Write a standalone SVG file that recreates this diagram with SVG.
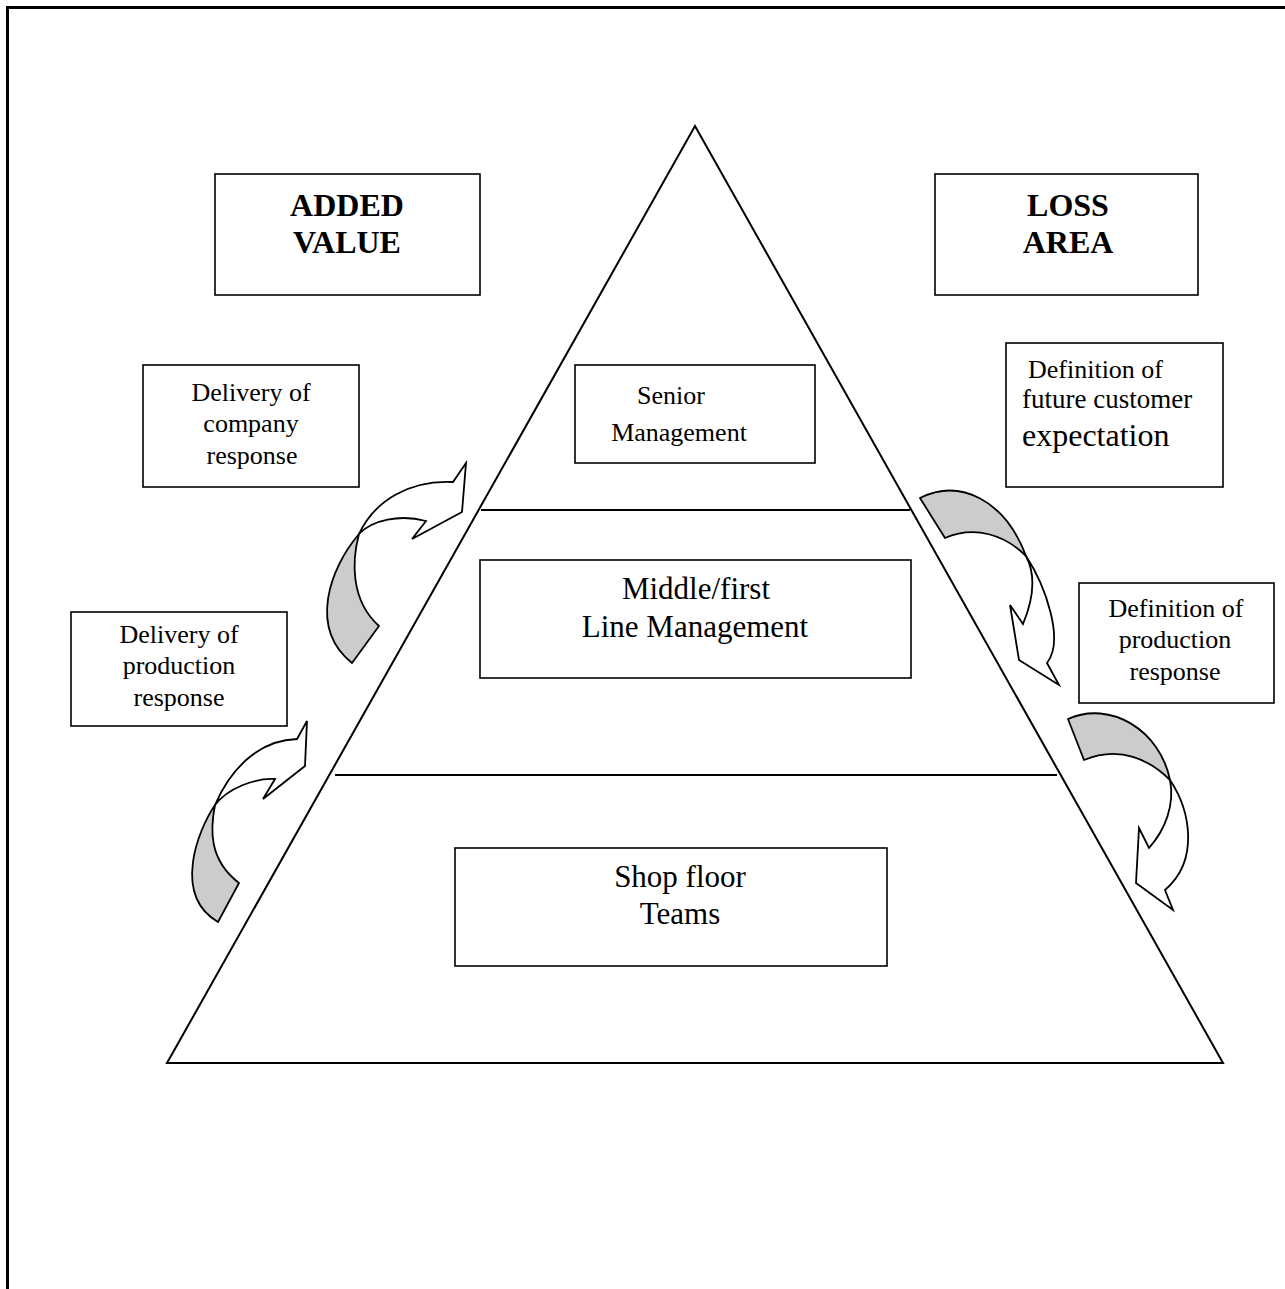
<svg xmlns="http://www.w3.org/2000/svg" width="1285" height="1289" viewBox="0 0 1285 1289">
  <style>
    .frame { fill: none; stroke: #000; stroke-width: 3; }
    .pyr { fill: none; stroke: #000; stroke-width: 2; }
    .box { fill: #fff; stroke: #000; stroke-width: 1.6; }
    .t { font-family: "Liberation Serif", "Times New Roman", serif; font-size: 26px; fill: #000; text-anchor: middle; }
    .big { font-size: 31px; }
    .head { font-size: 32px; font-weight: bold; }
    .back { fill: #cccccc; stroke: #000; stroke-width: 1.8; stroke-linejoin: round; }
    .front { fill: #fff; stroke: #000; stroke-width: 1.8; stroke-linejoin: miter; }
  </style>

  <rect width="1285" height="1289" fill="#fff"/>

  <!-- page frame (runs past the right and bottom edges) -->
  <path class="frame" d="M 7.5 1300 L 7.5 7.5 L 1300 7.5"/>

  <!-- pyramid with its two level dividers -->
  <g id="pyramid">
    <polygon class="pyr" points="695,126 1223,1063 167,1063"/>
    <line class="pyr" x1="481" y1="510" x2="910" y2="510"/>
    <line class="pyr" x1="335" y1="775" x2="1057" y2="775"/>
  </g>

  <g id="added-value">
    <rect class="box" x="215" y="174" width="265" height="121"/>
    <text class="t head" x="347" y="216">ADDED</text>
    <text class="t head" x="347" y="253">VALUE</text>
  </g>

  <g id="loss-area">
    <rect class="box" x="935" y="174" width="263" height="121"/>
    <text class="t head" x="1068" y="216">LOSS</text>
    <text class="t head" x="1068" y="253">AREA</text>
  </g>

  <g id="company-response">
    <rect class="box" x="143" y="365" width="216" height="122"/>
    <text class="t" x="251" y="401">Delivery of</text>
    <text class="t" x="251" y="432">company</text>
    <text class="t" x="252" y="464">response</text>
  </g>

  <g id="senior-management">
    <rect class="box" x="575" y="365" width="240" height="98"/>
    <text class="t" x="671" y="404">Senior</text>
    <text class="t" x="679" y="441">Management</text>
  </g>

  <g id="customer-expectation">
    <rect class="box" x="1006" y="343" width="217" height="144"/>
    <text class="t" x="1028" y="378" style="text-anchor:start">Definition of</text>
    <text class="t" x="1022" y="408" style="text-anchor:start;font-size:27px">future customer</text>
    <text class="t" x="1022" y="446" style="text-anchor:start;font-size:32px">expectation</text>
  </g>

  <g id="middle-management">
    <rect class="box" x="480" y="560" width="431" height="118"/>
    <text class="t big" x="696" y="599">Middle/first</text>
    <text class="t big" x="695" y="637">Line Management</text>
  </g>

  <g id="production-delivery">
    <rect class="box" x="71" y="612" width="216" height="114"/>
    <text class="t" x="179" y="643">Delivery of</text>
    <text class="t" x="179" y="674">production</text>
    <text class="t" x="179" y="706">response</text>
  </g>

  <g id="production-definition">
    <rect class="box" x="1079" y="583" width="195" height="120"/>
    <text class="t" x="1176" y="617">Definition of</text>
    <text class="t" x="1175" y="648">production</text>
    <text class="t" x="1175" y="680">response</text>
  </g>

  <g id="shop-floor">
    <rect class="box" x="455" y="848" width="432" height="118"/>
    <text class="t big" x="680" y="887">Shop floor</text>
    <text class="t big" x="680" y="924">Teams</text>
  </g>

  <!-- curved block arrows: grey underside below the twist, white face and head above -->
  <g id="connectors">
    <g id="arrow-left-upper">
      <path class="back" d="M 352 663 C 308 628 330 568 359 534 C 352 560 350 600 379 626 Z"/>
      <path class="front" d="M 359 534 C 375 500 410 480 453 482 L 466 463 L 462 512 L 412 539 L 426 521 C 400 514 372 520 359 534 Z"/>
    </g>
    <g id="arrow-left-lower">
      <path class="back" d="M 218 922 C 172 895 198 830 215 805 C 210 830 209 860 239 883 Z"/>
      <path class="front" d="M 215 805 C 230 770 258 740 297 739 L 307 721 L 305 766 L 263 799 L 275 779 C 255 778 228 788 215 805 Z"/>
    </g>
    <g id="arrow-right-upper">
      <path class="back" d="M 920 498 C 960 478 1005 500 1026 556 C 1005 535 975 525 945 538 Z"/>
      <path class="front" d="M 1026 556 C 1045 585 1065 640 1047 663 L 1059 685 L 1019 660 L 1010 605 L 1023 624 C 1033 600 1036 575 1026 556 Z"/>
    </g>
    <g id="arrow-right-lower">
      <path class="back" d="M 1068 719 C 1110 700 1160 730 1170 780 C 1150 760 1120 745 1084 760 Z"/>
      <path class="front" d="M 1170 780 C 1190 810 1200 860 1165 890 L 1173 910 L 1136 883 L 1139 828 L 1149 848 C 1165 830 1175 805 1170 780 Z"/>
    </g>
  </g>
</svg>
